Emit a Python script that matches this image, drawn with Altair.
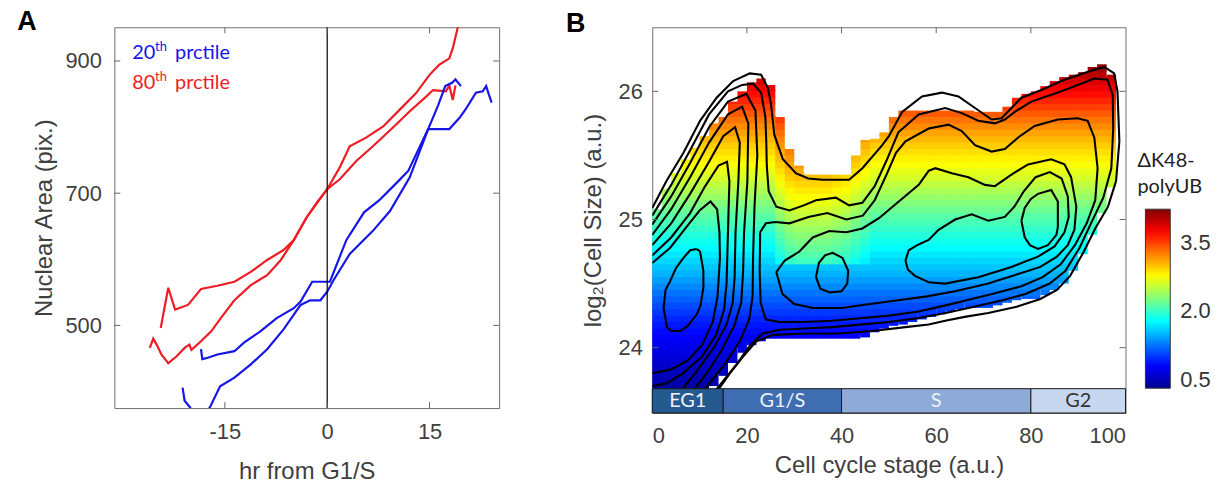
import altair as alt
import pandas as pd

# ====================== Panel A : Nuclear area vs hr from G1/S ======================
a_x_ticks = [-15, 0, 15]
a_y_ticks = [500, 700, 900]

red_hi_x = [-24.4, -23.3, -22.3, -20.4, -18.5, -16.1, -13.6, -11.2, -8.8, -6.4, -4.9, -2.96, -1.5, 0.0,
            1.84, 3.3, 5.7, 8.2, 10.6, 13.0, 15.0, 16.4, 17.9, 18.4, 19.1, 19.6]
red_hi_y = [496, 557, 524, 531, 555, 560, 566, 581, 599, 614, 629, 664, 686, 706,
            739, 771, 784, 801, 826, 851, 879, 894, 904, 919, 949, 968]

red_lo_x = [-26.0, -25.5, -25.0, -24.3, -23.3, -22.1, -20.9, -20.2, -19.9, -18.5, -17.0, -15.6, -13.6,
            -11.2, -8.8, -6.8, -4.9, -3.0, 0.0, 1.84, 4.3, 6.7, 9.6, 12.1, 14.5, 15.5, 17.4, 17.9, 18.4, 18.8]
red_lo_y = [466, 480, 471, 456, 443, 453, 466, 471, 463, 476, 491, 511, 538,
            561, 576, 599, 629, 664, 706, 721, 749, 771, 799, 824, 846, 856, 854, 863, 841, 863]

blue_a_x = [-18.5, -18.3, -17.5, -16.1, -13.6, -12.2, -9.8, -7.4, -4.9, -3.9, -2.2, 0.4, 2.8, 5.4,
            7.6, 10.5, 11.9, 14.8, 16.3, 17.3, 18.3, 18.8, 19.6]
blue_a_y = [464, 449, 451, 456, 461, 474, 491, 511, 526, 536, 566, 566, 629, 671,
            689, 719, 734, 797, 834, 862, 867, 872, 862]

blue_b_x = [-21.2, -20.9, -20.1, -19.5, -18.3, -17.2, -15.7, -13.6, -11.2, -8.8, -6.4, -3.9, -2.5, -1.0,
            0.0, 0.9, 3.3, 6.7, 9.2, 12.1, 14.8, 17.9, 19.4, 20.3, 21.8, 22.8, 23.3, 23.7, 24.1]
blue_b_y = [406, 386, 376, 362, 362, 376, 408, 421, 441, 464, 494, 531, 538, 538,
            551, 568, 608, 643, 673, 724, 797, 797, 814, 827, 852, 854, 862, 849, 837]


def series(name, grp, xs, ys):
    return pd.DataFrame({"x": xs, "y": ys, "series": name, "grp": grp, "i": list(range(len(xs)))})


dfA = pd.concat([
    series("red_hi", "80th", red_hi_x, red_hi_y),
    series("red_lo", "80th", red_lo_x, red_lo_y),
    series("blue_a", "20th", blue_a_x, blue_a_y),
    series("blue_b", "20th", blue_b_x, blue_b_y),
])

WA, HA = 387, 383
scaleAx = alt.Scale(domain=[-31.2, 25.2], nice=False, zero=False)
scaleAy = alt.Scale(domain=[375, 951], nice=False, zero=False)
axisAx = alt.Axis(values=a_x_ticks, title="hr from G1/S", labelExpr="'' + datum.value",
                  labelPadding=14, titlePadding=17)
axisAy = alt.Axis(values=a_y_ticks, title="Nuclear Area (pix.)", labelPadding=13, titlePadding=8)


def ax(f):
    return alt.X(f, scale=scaleAx, axis=axisAx)


def ay(f):
    return alt.Y(f, scale=scaleAy, axis=axisAy)


def label(txt, x, y, size, color, font="Lato", weight="normal", align="left", baseline="alphabetic"):
    return alt.Chart(pd.DataFrame({"t": [txt]})).mark_text(
        align=align, baseline=baseline, font=font, fontSize=size, fontWeight=weight, color=color
    ).encode(text="t:N", x=alt.value(x), y=alt.value(y))


BLUE, RED = "#1616e8", "#ee1c24"
linesA = alt.Chart(dfA).mark_line(strokeWidth=2.2, clip=True).encode(
    x=ax("x:Q"), y=ay("y:Q"), detail="series:N", order="i:Q",
    color=alt.Color("grp:N", scale=alt.Scale(domain=["20th", "80th"], range=[BLUE, RED]), legend=None),
)
zeroA = alt.Chart(pd.DataFrame({"x": [0]})).mark_rule(color="black", strokeWidth=1.2).encode(x=ax("x:Q"))

tkx = pd.DataFrame({"x": a_x_ticks})
tky = pd.DataFrame({"y": a_y_ticks})
ticksA = [
    alt.Chart(tkx).mark_rule(color="#666").encode(x=ax("x:Q"), y=alt.value(HA), y2=alt.value(HA - 6)),
    alt.Chart(tkx).mark_rule(color="#666").encode(x=ax("x:Q"), y=alt.value(0), y2=alt.value(6)),
    alt.Chart(tky).mark_rule(color="#666").encode(y=ay("y:Q"), x=alt.value(0), x2=alt.value(6)),
    alt.Chart(tky).mark_rule(color="#666").encode(y=ay("y:Q"), x=alt.value(WA - 6), x2=alt.value(WA)),
]
textA = [
    label("20", 18, 32, 20, BLUE), label("th", 41, 24, 13, BLUE), label("prctile", 61, 32, 20, BLUE),
    label("80", 18, 62, 20, RED), label("th", 41, 54, 13, RED), label("prctile", 61, 62, 20, RED),
    label("A", -88, -5, 27, "#000", font="Liberation Sans", weight="bold", align="center", baseline="middle"),
]
chartA = alt.layer(linesA, zeroA, *ticksA, *textA).properties(width=WA, height=HA)

# ====================== Panel B : heatmap + density contours ======================
b_x_ticks = [0, 20, 40, 60, 80, 100]
b_y_ticks = [24, 25, 26]
colorbar_ticks = [0.5, 2.0, 3.5]

# colored region per 2-unit column (x = 0-2, 2-4, ... 98-100)
col_bottom = [23.5, 23.5, 23.5, 23.5, 23.5, 23.5, 23.7, 23.78, 23.88, 23.96,
              24.02, 24.05, 24.07, 24.07, 24.07, 24.07, 24.07, 24.07, 24.07, 24.07,
              24.07, 24.07, 24.08, 24.12, 24.15, 24.17, 24.18, 24.2, 24.22, 24.24,
              24.26, 24.28, 24.3, 24.31, 24.31, 24.31, 24.33, 24.35, 24.37, 24.38,
              24.38, 24.41, 24.45, 24.5, 24.6, 24.73, 24.88, 25.05, 25.25, 25.6]
col_top = [25.08, 25.24, 25.36, 25.47, 25.56, 25.65, 25.75, 25.8, 25.92, 26.0,
           26.07, 26.1, 26.05, 25.8, 25.55, 25.42, 25.35, 25.35, 25.35, 25.35,
           25.35, 25.5, 25.62, 25.63, 25.68, 25.8, 25.85, 25.85, 25.85, 25.85,
           25.85, 25.85, 25.85, 25.85, 25.84, 25.84, 25.84, 25.88, 25.95, 25.98,
           26.0, 26.04, 26.08, 26.11, 26.13, 26.15, 26.19, 26.21, 26.13, 25.6]
# warmer tint of the valley columns between the EG1 peak and the S region
col_shift = [0, 0, 0, 0, 0, 0, 0, 0, 0, 0,
             0, 0, 0, 0.2, 0.35, 0.4, 0.4, 0.4, 0.4, 0.35,
             0.3, 0.2, 0.1, 0, 0, 0, 0, 0, 0, 0,
             0, 0, 0, 0, 0, 0, 0, 0, 0, 0,
             0, 0, 0, 0, 0, 0, 0, 0, 0, 0]
# ΔK48-polyUB value per 0.05-high band, from log2 size 23.50 upward
band_values = [0.33, 0.35, 0.38, 0.42, 0.46, 0.50, 0.55, 0.60, 0.65, 0.70,
               0.75, 0.80, 0.85, 0.90, 0.96, 1.03, 1.10, 1.18, 1.26, 1.34,
               1.42, 1.50, 1.57, 1.64, 1.71, 1.78, 1.85, 1.92, 1.99, 2.06,
               2.13, 2.21, 2.29, 2.37, 2.45, 2.53, 2.61, 2.68, 2.75, 2.82,
               2.89, 2.96, 3.04, 3.12, 3.21, 3.30, 3.40, 3.50, 3.60, 3.70,
               3.80, 3.90, 4.00, 4.10, 4.18]

heat_rows = []
for ci, (b, t, s) in enumerate(zip(col_bottom, col_top, col_shift)):
    for bi, v in enumerate(band_values):
        y0 = 23.5 + 0.05 * bi
        lo, hi = max(y0, b), min(y0 + 0.05, t)
        if hi > lo:
            # tiny overlap with the next band / column hides anti-aliasing seams
            hi_d = hi + 0.008 if hi < t else hi
            nb = ci + 1
            cover = nb < len(col_bottom) and col_bottom[nb] <= lo and col_top[nb] >= hi
            heat_rows.append({"x0": 2 * ci, "x1": 2 * ci + 2 + (0.15 if cover else 0), "y0": lo, "y1": hi_d,
                              "v": min(v + (s if y0 > 24.6 else 0), 4.2)})
heat_df = pd.DataFrame(heat_rows)

# density contour lines (x = cell cycle stage, y = log2 cell size)
c1_all = [(0, 25.09), (3, 25.3), (6.6, 25.52), (10.1, 25.77), (13.6, 25.95), (17.1, 26.08), (20.6, 26.14),
          (23.0, 26.13), (24.4, 26.03), (25.1, 25.9), (25.8, 25.66), (27.6, 25.47), (30.4, 25.36), (33, 25.32),
          (36, 25.31), (41.6, 25.31), (44.4, 25.4), (48.6, 25.58), (50, 25.65), (52.8, 25.84), (57, 25.96),
          (61.2, 25.99), (64.7, 25.96), (68.2, 25.87), (71.7, 25.78), (73.8, 25.79), (75.9, 25.87), (78, 25.95),
          (82.2, 26.01), (87.1, 26.09), (92.7, 26.16), (95.5, 26.19), (97.6, 26.14), (98.3, 26.0), (98.7, 25.61),
          (98.0, 25.3), (96.3, 25.1), (93.6, 24.93), (91.2, 24.75), (88.3, 24.56), (85.5, 24.45), (82, 24.38),
          (77, 24.32), (71, 24.27), (66, 24.24), (61.9, 24.21), (58.4, 24.18), (53.5, 24.16), (46.5, 24.13),
          (39.5, 24.11), (32.5, 24.11), (25.5, 24.1), (22, 24.05), (19.2, 23.93), (16.4, 23.8), (14.3, 23.69),
          (13.5, 23.6)]
c2_all = [(0, 25.03), (4, 25.27), (8, 25.54), (12, 25.82), (16, 26.0), (19, 26.05), (21.3, 26.06), (23.0, 25.99),
          (23.9, 25.8), (24.1, 25.6), (24.2, 25.42), (24.6, 25.22), (26.2, 25.1), (29, 25.07), (32, 25.11),
          (34.6, 25.15), (38.8, 25.17), (41.6, 25.11), (44.4, 25.13), (47, 25.26), (49.5, 25.46), (52, 25.68),
          (56.3, 25.82), (61.9, 25.87), (65.4, 25.83), (68.9, 25.77), (72.4, 25.75), (74.5, 25.78), (76.6, 25.84),
          (80.1, 25.92), (85.7, 25.99), (89.9, 26.05), (93.4, 26.1), (96.2, 26.09), (97.3, 25.97), (97.4, 25.71),
          (97.0, 25.4), (95.3, 25.17), (92.7, 24.97), (90.3, 24.78), (87.3, 24.6), (84, 24.5), (79, 24.42),
          (74, 24.37), (68, 24.32), (62, 24.27), (56, 24.23), (50, 24.2), (44, 24.18), (38, 24.16), (32, 24.15),
          (27, 24.14), (23.3, 24.11), (20.5, 24.01), (17.8, 23.87), (15, 23.74), (13, 23.65), (12.5, 23.6)]
c3_eg1 = [(0, 24.96), (4, 25.18), (8, 25.44), (12, 25.72), (16, 25.92), (19.9, 25.98), (21.8, 25.85), (22.2, 25.5),
          (21.6, 25.1), (21.3, 24.7), (21.2, 24.4), (20.5, 24.22), (18.5, 24.05), (15.5, 23.88), (12.5, 23.74),
          (10.5, 23.65), (10, 23.6)]
c3_mid = [(22.8, 24.9), (24, 24.97), (26, 24.98), (29, 24.97), (33, 25.02), (37, 25.05), (41, 25.0), (44.5, 25.03),
          (47, 25.15), (49.5, 25.35), (51.5, 25.52), (53.5, 25.61), (58.4, 25.71), (62.6, 25.74), (65.4, 25.69),
          (68.2, 25.58), (71.7, 25.53), (74.5, 25.55), (77.3, 25.64), (80.8, 25.73), (85.7, 25.78), (89.9, 25.79),
          (92, 25.77), (93.4, 25.64), (94.1, 25.4), (93.6, 25.15), (91.8, 24.97), (89.3, 24.8), (86.3, 24.65),
          (82.5, 24.55), (78, 24.48), (72, 24.42), (67.5, 24.38), (62, 24.33), (56, 24.28), (50, 24.25),
          (44, 24.23), (38, 24.21), (32, 24.2), (27, 24.2), (24, 24.22), (22.9, 24.35), (22.7, 24.6), (22.8, 24.9)]
c4_eg1 = [(0, 24.88), (4, 25.08), (8, 25.33), (12, 25.6), (16, 25.82), (19, 25.88), (20.3, 25.75), (20.1, 25.3),
          (19.4, 24.9), (19.2, 24.6), (18.8, 24.35), (17.3, 24.17), (14.5, 23.97), (11.5, 23.8), (8.5, 23.66),
          (7.5, 23.6)]
c4_mid = [(26.2, 24.59), (28, 24.68), (31.1, 24.75), (33.9, 24.86), (37.4, 24.91), (41, 24.9), (44.4, 24.93),
          (47.9, 25.01), (52.1, 25.14), (56.3, 25.27), (58.4, 25.38), (59.8, 25.4), (63.3, 25.36), (66.8, 25.33),
          (70.3, 25.27), (72.4, 25.26), (75.9, 25.35), (79.4, 25.43), (84.3, 25.47), (87.1, 25.43), (88.5, 25.33),
          (89.6, 25.1), (89.2, 24.92), (87.8, 24.8), (85.5, 24.71), (82, 24.63), (77, 24.57), (71, 24.5),
          (64, 24.44), (58, 24.4), (52, 24.37), (46, 24.34), (40, 24.31), (34, 24.31), (30, 24.34), (27.5, 24.42),
          (26.2, 24.59)]
c5_eg1 = [(0, 24.8), (4, 24.97), (8, 25.2), (12, 25.45), (15, 25.65), (17.5, 25.72), (18.5, 25.6), (18.2, 25.3),
          (17.6, 24.9), (17.4, 24.55), (17, 24.35), (15.7, 24.18), (13, 24.0), (9.5, 23.82), (6, 23.66),
          (5, 23.6)]
c5_g1s = [(34.6, 24.55), (35.2, 24.66), (36.5, 24.72), (38.1, 24.74), (40.2, 24.7), (41.4, 24.6), (41.2, 24.5),
          (40.0, 24.44), (37.5, 24.43), (35.5, 24.46), (34.6, 24.55)]
c5_mid = [(53.5, 24.68), (54.2, 24.76), (56, 24.8), (58.4, 24.84), (60.5, 24.92), (64, 25.0), (67.5, 25.04),
          (71, 24.99), (74.5, 25.02), (76.5, 25.1), (78.5, 25.22), (81, 25.33), (84, 25.37), (86.5, 25.32),
          (87.8, 25.18), (88, 25.02), (87.1, 24.9), (85, 24.79), (81.5, 24.71), (75.9, 24.63), (68.9, 24.55),
          (61.9, 24.5), (58.4, 24.51), (55.5, 24.56), (54, 24.61), (53.5, 24.68)]
c6_eg1 = [(0, 24.72), (4, 24.86), (8, 25.05), (11, 25.25), (14, 25.42), (15.8, 25.45), (16.3, 25.3), (16, 24.9),
          (15.7, 24.5), (15.2, 24.3), (13.5, 24.1), (10.5, 23.93), (6.5, 23.8), (3, 23.72), (0, 23.7)]
c6_g2 = [(78, 24.99), (78.7, 25.09), (80, 25.16), (81.5, 25.2), (84.3, 25.23), (85.7, 25.14), (85.7, 24.94),
         (85.4, 24.88), (83.6, 24.8), (81.5, 24.77), (79.8, 24.8), (78.7, 24.86), (78, 24.99)]
c7_eg1 = [(0, 24.66), (3.8, 24.78), (7, 24.93), (10, 25.07), (12.3, 25.14), (13.7, 25.08), (14.2, 24.9),
          (14.3, 24.7), (13.8, 24.4), (12.8, 24.2), (10.5, 24.02), (7.5, 23.9), (4, 23.83), (0, 23.8)]
c8_eg1 = [(9.4, 24.77), (10.1, 24.75), (10.8, 24.6), (10.8, 24.47), (10.2, 24.33), (9.4, 24.26), (7.5, 24.17),
          (5.9, 24.13), (4, 24.13), (3.1, 24.16), (2.4, 24.31), (2.8, 24.45), (3.8, 24.52), (5, 24.62),
          (6.6, 24.7), (8, 24.76), (9.4, 24.77)]

contours = {"c1_all": c1_all, "c2_all": c2_all, "c3_eg1": c3_eg1, "c3_mid": c3_mid, "c4_eg1": c4_eg1,
            "c4_mid": c4_mid, "c5_eg1": c5_eg1, "c5_g1s": c5_g1s, "c5_mid": c5_mid, "c6_eg1": c6_eg1,
            "c6_g2": c6_g2, "c7_eg1": c7_eg1, "c8_eg1": c8_eg1}
cont_df = pd.DataFrame([
    {"cid": k, "i": i, "x": p[0], "y": p[1]} for k, pts in contours.items() for i, p in enumerate(pts)
])

phase_names = ["EG1", "G1/S", "S", "G2"]
phase_start = [0, 15, 40, 80]
phase_end = [15, 40, 80, 100]
phase_fill = ["#245a8f", "#3f6db1", "#8eaad7", "#c7d7f0"]
phase_df = pd.DataFrame({"phase": phase_names, "start": phase_start, "end": phase_end,
                         "mid": [(a + b) / 2 for a, b in zip(phase_start, phase_end)]})

WB, HB = 476, 388
scaleBx = alt.Scale(domain=[0, 100], nice=False, zero=False)
scaleBy = alt.Scale(domain=[23.49, 26.5], nice=False, zero=False)
axisBx = alt.Axis(values=b_x_ticks, title="Cell cycle stage (a.u.)", labelPadding=13, titlePadding=7)
axisBy = alt.Axis(values=b_y_ticks, title="log\u2082(Cell Size) (a.u.)", labelPadding=10, titlePadding=13)


def bx(f):
    return alt.X(f, scale=scaleBx, axis=axisBx)


def by(f):
    return alt.Y(f, scale=scaleBy, axis=axisBy)


jet = alt.Scale(domain=[0.33, 0.8175, 1.7925, 2.7675, 3.7425, 4.23],
                range=["#00008f", "#0000ff", "#00ffff", "#ffff00", "#ff0000", "#800000"], interpolate="rgb")

heat = alt.Chart(heat_df).mark_rect().encode(
    x=bx("x0:Q"), x2="x1:Q", y=by("y0:Q"), y2="y1:Q",
    color=alt.Color("v:Q", scale=jet, legend=alt.Legend(
        type="gradient", title=None, orient="none", legendX=496, legendY=183, direction="vertical",
        gradientLength=180, gradientThickness=25, values=colorbar_ticks, format=".1f",
        labelFont="Liberation Sans", labelFontSize=22, labelColor="#333", labelOffset=10,
        gradientStrokeColor="#333", gradientStrokeWidth=1)),
)
cont = alt.Chart(cont_df).mark_line(color="black", strokeWidth=2.1, clip=True).encode(
    x=bx("x:Q"), y=by("y:Q"), detail="cid:N", order="i:Q")
bar = alt.Chart(phase_df).mark_rect(stroke="#1a1a1a", strokeWidth=1).encode(
    x=bx("start:Q"), x2="end:Q",
    y=alt.YDatum(23.49, scale=scaleBy, axis=axisBy), y2=alt.Y2Datum(23.68),
    fill=alt.Fill("phase:N", scale=alt.Scale(domain=phase_names, range=phase_fill), legend=None),
)
bar_txt_light = alt.Chart(phase_df).transform_filter(alt.datum.phase != "G2").mark_text(
    font="Lato", fontSize=20, color="#eef2f8", baseline="middle").encode(
    x=bx("mid:Q"), y=alt.YDatum(23.585, scale=scaleBy, axis=axisBy), text="phase:N")
bar_txt_dark = alt.Chart(phase_df).transform_filter(alt.datum.phase == "G2").mark_text(
    font="Lato", fontSize=20, color="#333333", baseline="middle").encode(
    x=bx("mid:Q"), y=alt.YDatum(23.585, scale=scaleBy, axis=axisBy), text="phase:N")

tbx = pd.DataFrame({"x": [20, 40, 60, 80]})
tby = pd.DataFrame({"y": b_y_ticks})
ticksB = [
    alt.Chart(tbx).mark_rule(color="#666").encode(x=bx("x:Q"), y=alt.value(0), y2=alt.value(6)),
    alt.Chart(tby).mark_rule(color="#666").encode(y=by("y:Q"), x=alt.value(0), x2=alt.value(6)),
    alt.Chart(tby).mark_rule(color="#666").encode(y=by("y:Q"), x=alt.value(WB - 6), x2=alt.value(WB)),
]
textB = [
    label("B", -77, -3, 27, "#000", font="Liberation Sans", weight="bold", align="center", baseline="middle"),
    label("\u0394K48-", 488, 141, 20, "#222"),
    label("polyUB", 488, 167, 20, "#222"),
]

chartB = alt.layer(heat, cont, bar, bar_txt_light, bar_txt_dark, *ticksB, *textB).properties(width=WB, height=HB)

chart = alt.hconcat(chartA, chartB, spacing=65).resolve_scale(
    color="independent", fill="independent"
).properties(
    padding={"left": 16, "top": 6, "right": 5, "bottom": 0}
).configure_axis(
    grid=False, domain=False, ticks=False,
    labelFont="Liberation Sans", labelFontSize=22, labelColor="#404040",
    titleFont="Liberation Sans", titleFontSize=24, titleFontWeight="normal", titleColor="#404040",
).configure_view(stroke="#707070", strokeWidth=1)

chart.save("out.html", embed_options={"renderer": "svg", "actions": False})
